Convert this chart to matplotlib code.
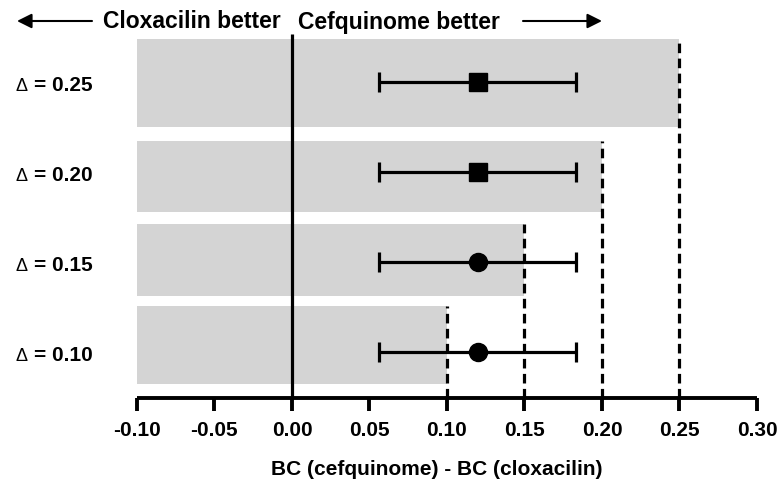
import matplotlib.pyplot as plt
import matplotlib.transforms as mtransforms
from matplotlib.patches import FancyArrowPatch

# rows from top to bottom
deltas = [0.25, 0.20, 0.15, 0.10]
delta_labels = ['0.25', '0.20', '0.15', '0.10']
estimate = [0.12, 0.12, 0.12, 0.12]
ci_low = [0.056, 0.056, 0.056, 0.056]
ci_high = [0.183, 0.183, 0.183, 0.183]
markers = ['s', 's', 'o', 'o']
row_y = [31.6, 22.6, 13.6, 4.6]
bar_bottom = [27.1, 18.6, 10.2, 1.4]
bar_top = [35.9, 25.7, 17.4, 9.2]
xticks = [-0.10, -0.05, 0.00, 0.05, 0.10, 0.15, 0.20, 0.25, 0.30]

plt.rcParams['font.family'] = ['Liberation Sans', 'DejaVu Sans']
plt.rcParams['font.weight'] = 'bold'

fig = plt.figure(figsize=(7.78, 4.85), dpi=100)
ax = fig.add_axes([0.176, 0.1773, 0.797, 0.7505])

lw = 2.3
for d, b, t in zip(deltas, bar_bottom, bar_top):
    ax.barh((b + t) / 2, d + 0.10, left=-0.10, height=t - b,
            color='#d4d4d4', edgecolor='none', zorder=1)
    ax.vlines(d, 0, t, colors='black', linewidth=lw,
              linestyles=(0, (3, 1.7)), zorder=3)

ax.vlines(0, 0, 36.4, colors='black', linewidth=lw, zorder=3)

for x, lo, hi, y, m in zip(estimate, ci_low, ci_high, row_y, markers):
    ax.errorbar(x, y, xerr=[[x - lo], [hi - x]], fmt=m, color='black',
                ms=12.5 if m == 's' else 13, elinewidth=lw, capsize=7.5,
                capthick=lw, zorder=4)

ax.set_xlim(-0.10, 0.30)
ax.set_ylim(0, 36.4)
ax.set_xticks(xticks)
ax.set_xticklabels(['%.2f' % v for v in xticks], fontsize=15, fontweight='bold')
ax.set_yticks([])
for s in ['top', 'right', 'left']:
    ax.spines[s].set_visible(False)
ax.spines['bottom'].set_linewidth(lw + 0.5)
ax.spines['bottom'].set_capstyle('butt')
ax.tick_params(axis='x', direction='out', length=9, width=lw + 0.5, pad=7)
ax.set_xlabel('BC (cefquinome) - BC (cloxacilin)', fontsize=15,
              fontweight='bold')
ax.xaxis.set_label_coords((437 - 137) / 620, -0.168)

# delta labels on the left
tr = mtransforms.blended_transform_factory(fig.transFigure, ax.transData)
for y, lab in zip(row_y, delta_labels):
    ax.text(16 / 778, y - 0.75, '\u0394', transform=tr, fontsize=13,
            fontweight='normal', va='baseline', ha='left')
    ax.text(34 / 778, y - 0.75, '= ' + lab, transform=tr, fontsize=15,
            fontweight='bold', va='baseline', ha='left')

# header with arrows
fig.text(103 / 778, 1 - 22 / 485, 'Cloxacilin better', fontsize=16.5,
         fontweight='bold', va='center', ha='left')
fig.text(298 / 778, 1 - 22 / 485, 'Cefquinome better', fontsize=16.5,
         fontweight='bold', va='center', ha='left')
ap = dict(arrowstyle='-|>', color='black', lw=1.5, mutation_scale=22,
          shrinkA=0, shrinkB=0)
fig.patches.append(FancyArrowPatch((92 / 778, 1 - 22 / 485),
                                   (17 / 778, 1 - 22 / 485),
                                   transform=fig.transFigure, **ap))
fig.patches.append(FancyArrowPatch((523 / 778, 1 - 22 / 485),
                                   (602 / 778, 1 - 22 / 485),
                                   transform=fig.transFigure, **ap))

fig.savefig('out.png', dpi=100)
